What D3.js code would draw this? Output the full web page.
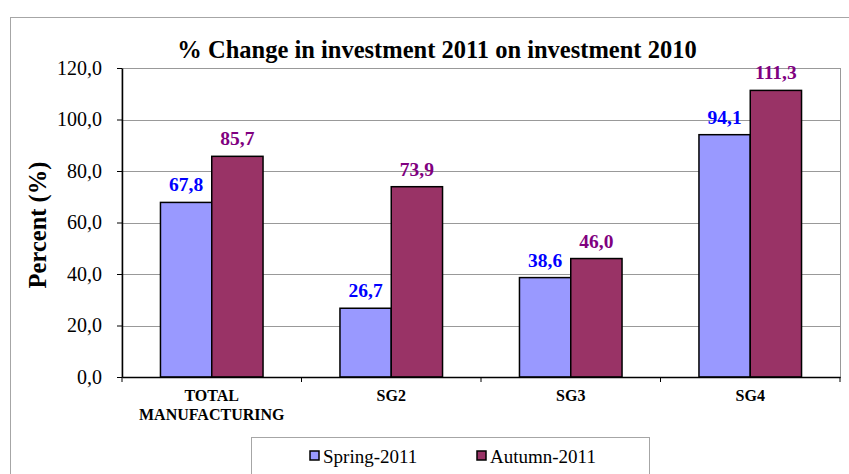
<!DOCTYPE html>
<html>
<head>
<meta charset="utf-8">
<script src="https://cdn.jsdelivr.net/npm/d3@7/dist/d3.min.js"></script>
<style>
  body { margin: 0; background: #fff; }
</style>
</head>
<body>
<svg width="849" height="474"></svg>
<script>
// data
var categories = ["TOTAL\nMANUFACTURING", "SG2", "SG3", "SG4"];
var seriesNames = ["Spring-2011", "Autumn-2011"];
var spring = [67.8, 26.7, 38.6, 94.1];
var autumn = [85.7, 73.9, 46.0, 111.3];
var yTicks = [0, 20, 40, 60, 80, 100, 120];

var FONT = "'Liberation Serif', 'Times New Roman', Times, 'DejaVu Serif', serif";

var cfg = {
    left: 122, right: 840, top: 68, bottom: 377,
    fills: ["#9999ff", "#993366"],
    labelColors: ["#0000ff", "#800080"]
};

var svg = d3.select("svg").attr("font-family", FONT);
var fmt = function (v) { return d3.format(".1f")(v).replace(".", ","); };

// outer chart border
svg.append("rect")
    .attr("x", 10.5).attr("y", 17.5)
    .attr("width", 900).attr("height", 600)
    .attr("fill", "#fff").attr("stroke", "#a6a6a6");

var x = d3.scaleBand()
    .domain(d3.range(categories.length))
    .range([cfg.left, cfg.right]);
var y = d3.scaleLinear()
    .domain([0, 120])
    .range([cfg.bottom, cfg.top]);

// plot area frame
svg.append("rect")
    .attr("x", cfg.left).attr("y", cfg.top + 0.5)
    .attr("width", cfg.right - cfg.left + 0.5)
    .attr("height", cfg.bottom - cfg.top)
    .attr("fill", "none").attr("stroke", "#999");

// gridlines
svg.append("g").selectAll("line")
    .data(yTicks.slice(1))
    .enter().append("line")
    .attr("x1", cfg.left).attr("x2", cfg.right)
    .attr("y1", function (d) { return Math.round(y(d)) + 0.5; })
    .attr("y2", function (d) { return Math.round(y(d)) + 0.5; })
    .attr("stroke", "#999");

// bars - excel style gap width 150%
var bw = x.bandwidth() / 3.5;
var series = [spring, autumn];
series.forEach(function (vals, s) {
    var g = svg.append("g");
    g.selectAll("rect")
        .data(vals)
        .enter().append("rect")
        .attr("x", function (d, i) { return x(i) + bw * 0.75 + s * bw; })
        .attr("y", function (d) { return y(d); })
        .attr("width", bw)
        .attr("height", function (d) { return cfg.bottom - y(d); })
        .attr("fill", cfg.fills[s])
        .attr("stroke", "#000").attr("stroke-width", 1.5);
    g.selectAll("text")
        .data(vals)
        .enter().append("text")
        .attr("x", function (d, i) { return x(i) + bw * 0.75 + s * bw + bw / 2; })
        .attr("y", function (d) { return y(d) - 11; })
        .attr("text-anchor", "middle")
        .attr("font-size", 19.5).attr("font-weight", "bold")
        .attr("fill", cfg.labelColors[s])
        .text(fmt);
});

// y axis
var yAxis = d3.axisLeft(y).tickValues(yTicks).tickSizeInner(5).tickSizeOuter(0)
    .tickFormat(fmt).tickPadding(15);
var ya = svg.append("g").attr("transform", "translate(" + cfg.left + ",0)").call(yAxis);
ya.attr("font-family", FONT);
ya.select(".domain").attr("stroke", "#000").attr("stroke-width", 1.5);
ya.selectAll(".tick line").attr("stroke", "#000");
ya.selectAll("text").attr("font-size", 20).attr("fill", "#000");

// x axis
var xAxis = d3.axisBottom(x).tickSize(0).tickFormat("");
var xa = svg.append("g").attr("transform", "translate(0," + cfg.bottom + ")").call(xAxis);
xa.select(".domain").attr("stroke", "#000").attr("stroke-width", 1.5);
xa.selectAll(".sep")
    .data(d3.range(categories.length + 1))
    .enter().append("line")
    .attr("x1", function (d) { return cfg.left + d * x.step(); })
    .attr("x2", function (d) { return cfg.left + d * x.step(); })
    .attr("y1", 0).attr("y2", 5)
    .attr("stroke", "#000");
categories.forEach(function (c, i) {
    var lines = c.split("\n");
    var t = svg.append("text")
        .attr("x", x(i) + x.bandwidth() / 2)
        .attr("y", 401)
        .attr("text-anchor", "middle")
        .attr("font-size", 16).attr("font-weight", "bold");
    lines.forEach(function (l, k) {
        t.append("tspan").attr("x", x(i) + x.bandwidth() / 2).attr("dy", k ? 19 : 0).text(l);
    });
});

// titles
svg.append("text")
    .attr("x", 437).attr("y", 58)
    .attr("text-anchor", "middle")
    .attr("font-size", 24.5).attr("font-weight", "bold")
    .text("% Change in investment 2011 on investment 2010");
svg.append("text")
    .attr("transform", "translate(46,225) rotate(-90)")
    .attr("text-anchor", "middle")
    .attr("font-size", 24.5).attr("font-weight", "bold")
    .text("Percent (%)");

// legend
var lg = svg.append("g");
lg.append("rect")
    .attr("x", 251.5).attr("y", 437.5)
    .attr("width", 398).attr("height", 60)
    .attr("fill", "#fff").attr("stroke", "#a6a6a6");
var lx = [310, 477];
seriesNames.forEach(function (n, s) {
    lg.append("rect")
        .attr("x", lx[s]).attr("y", 451)
        .attr("width", 9).attr("height", 9)
        .attr("fill", cfg.fills[s]).attr("stroke", "#000").attr("stroke-width", 1.5);
    lg.append("text")
        .attr("x", lx[s] + 13).attr("y", 463)
        .attr("font-size", 19)
        .text(n);
});
</script>
</body>
</html>
